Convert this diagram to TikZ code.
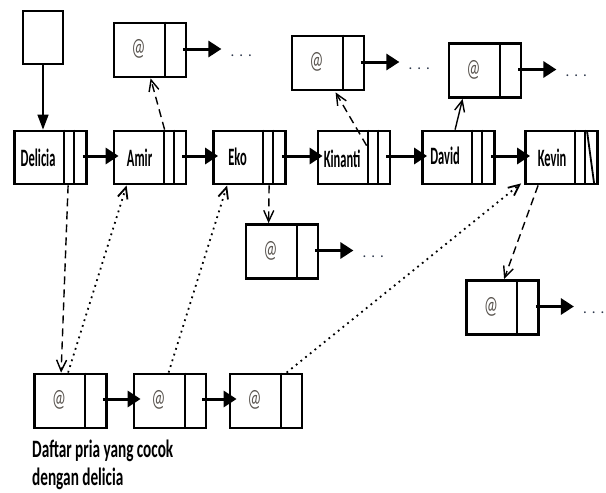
\documentclass[tikz,border=0pt]{standalone}
\usepackage{fontspec}
\setmainfont{Carlito}
\newfontfamily\narrowfont[FakeStretch=0.5]{Carlito}
\newfontfamily\captionfont[FakeStretch=0.61]{Carlito}
\newfontfamily\addrfont[FakeStretch=0.62]{Carlito}
\usetikzlibrary{arrows.meta,calc}
\definecolor{dotcol}{RGB}{45,55,75}
\definecolor{addrcol}{RGB}{90,85,80}

\begin{document}
\begin{tikzpicture}[x=1pt,y=-1pt,
  box/.style={draw,line width=2.8pt,minimum width=72pt,minimum height=53pt,inner sep=0pt},
  divider/.style={line width=1.8pt},
  namelabel/.style={inner sep=0pt,font=\narrowfont\bfseries\fontsize{25}{28}\selectfont},
  addr/.style={inner sep=0pt,text=addrcol,font=\addrfont\fontsize{25}{28}\selectfont},
  more/.style={inner sep=0pt,anchor=mid west,text=dotcol,font=\fontsize{15}{15}\selectfont},
  link/.style={line width=3pt,-{Triangle[length=13pt,width=16pt]}},
  ptr/.style={line width=1.4pt,-{Straight Barb[length=11pt,width=10pt]}},
  dashptr/.style={ptr,dash pattern=on 8pt off 5pt},
  dotptr/.style={ptr,line width=1.8pt,dash pattern=on 1.8pt off 4.2pt}
]
\useasboundingbox (0,0) rectangle (606,493);
\fill[white] (0,0) rectangle (606,493);

% head pointer
\node[box,minimum width=40pt] (head) at (43,37.5) {};

% main list
\node[box] (delicia) at (50.5,157.5) {};
\node[box] (amir)    at (150,157.5)  {};
\node[box] (eko)     at (249.5,157.5) {};
\node[box] (kinanti) at (354,157.5)  {};
\node[box] (david)   at (458.5,157.5) {};
\node[box] (kevin)   at (561.5,157.5) {};

\foreach \n in {delicia,amir,eko,kinanti,david,kevin}{
  \draw[divider] ($(\n.north west)+(51,0)$) -- ($(\n.south west)+(51,0)$);
  \draw[divider] ($(\n.north west)+(61,0)$) -- ($(\n.south west)+(61,0)$);
}
\draw[divider] ($(kevin.north west)+(63,2)$) -- ($(kevin.south west)+(70,-2)$);

\node[namelabel] (delicia-name) at ($(delicia.west)+(25,0)$)   {Delicia};
\node[namelabel] (amir-name)    at ($(amir.west)+(27,0)$)      {Amir};
\node[namelabel] (eko-name)     at ($(eko.west)+(25.5,-1)$)    {Eko};
\node[namelabel] (kinanti-name) at ($(kinanti.west)+(25.5,1)$) {Kinanti};
\node[namelabel] (david-name)   at ($(david.west)+(24,-2)$)    {David};
\node[namelabel] (kevin-name)   at ($(kevin.west)+(28,0)$)     {Kevin};

\draw[link] ($(delicia.east)+(-5,-1.5)$) -- ($(amir.west)+(6,-1.5)$);
\draw[link] ($(amir.east)+(-5,-1.5)$)    -- ($(eko.west)+(6,-1.5)$);
\draw[link] ($(eko.east)+(-5,-1.5)$)     -- ($(kinanti.west)+(6,-1.5)$);
\draw[link] ($(kinanti.east)+(-5,-1.5)$) -- ($(david.west)+(6,-1.5)$);
\draw[link] ($(david.east)+(-5,-1.5)$)   -- ($(kevin.west)+(6,-1.5)$);

% match lists hanging off each person
\node[box,minimum height=54pt] (amirmatch) at (150,50)    {};
\node[box,minimum height=54pt] (kinmatch)  at (328,63)    {};
\node[box,minimum height=54pt] (davmatch)  at (485,70.5)  {};
\node[box,minimum height=54pt] (ekomatch)  at (282,251.5) {};
\node[box,minimum height=54pt] (kevmatch)  at (502.5,307.5) {};

% list of matches for Delicia
\node[box,minimum height=54pt] (m1) at (70.5,401) {};
\node[box,minimum height=54pt] (m2) at (170,401)  {};
\node[box,minimum height=54pt] (m3) at (266,401)  {};

\foreach \n in {amirmatch,kinmatch,davmatch,ekomatch,kevmatch,m1,m2,m3}{
  \draw[divider] ($(\n.north west)+(52,0)$) -- ($(\n.south west)+(52,0)$);
  \node[addr] (\n-at) at ($(\n.west)+(26,-1)$) {@};
}

\foreach \n in {amirmatch,kinmatch,davmatch,ekomatch,kevmatch}{
  \coordinate (\n-end) at ($(\n.east)+(34,-1)$);
  \draw[link] ($(\n.east)+(-4,-1)$) -- (\n-end);
  \node[more] (\n-more) at ($(\n-end)+(9,5)$) {.\,\,.\,\,.};
}

\draw[link] ($(m1.east)+(-5,-2)$) -- ($(m2.west)+(8,-2)$);
\draw[link] ($(m2.east)+(-5,-2)$) -- ($(m3.west)+(8,-2)$);

% pointers
\draw[line width=1.5pt,-{Triangle[length=15pt,width=11pt]}] (head.south) -- (head.south |- delicia.north);
\draw[dashptr] ($(amir.north west)+(52,0)$)    -- ($(amirmatch.south west)+(38,0)$);
\draw[dashptr] ($(kinanti.north west)+(50,16)$) -- ($(kinmatch.south west)+(45,1)$);
\draw[ptr]     ($(david.north west)+(34,0)$)   -- ($(davmatch.south west)+(15,0)$);
\draw[dashptr] ($(eko.south west)+(57,0)$)     -- ($(ekomatch.north west)+(24,0)$);
\draw[dashptr] ($(kevin.south west)+(14,0)$)   -- ($(kevmatch.north west)+(39,0)$);
\draw[dashptr] ($(delicia.south west)+(55,0)$) -- ($(m1.north west)+(28,0)$);
\draw[dotptr]  ($(m1.north west)+(35,0)$)      -- ($(amir.south west)+(14,0)$);
\draw[dotptr]  ($(m2.north west)+(36,0)$)      -- ($(eko.south west)+(15,0)$);
\draw[dotptr]  ($(m3.north west)+(58,0)$)      -- ($(kevin.south west)+(-3,-2)$);

\node[inner sep=0pt,anchor=north west,align=left,font=\captionfont\bfseries\fontsize{25}{28}\selectfont]
  (caption) at (32,440) {Daftar pria yang cocok\\dengan delicia};
\end{tikzpicture}
\end{document}
